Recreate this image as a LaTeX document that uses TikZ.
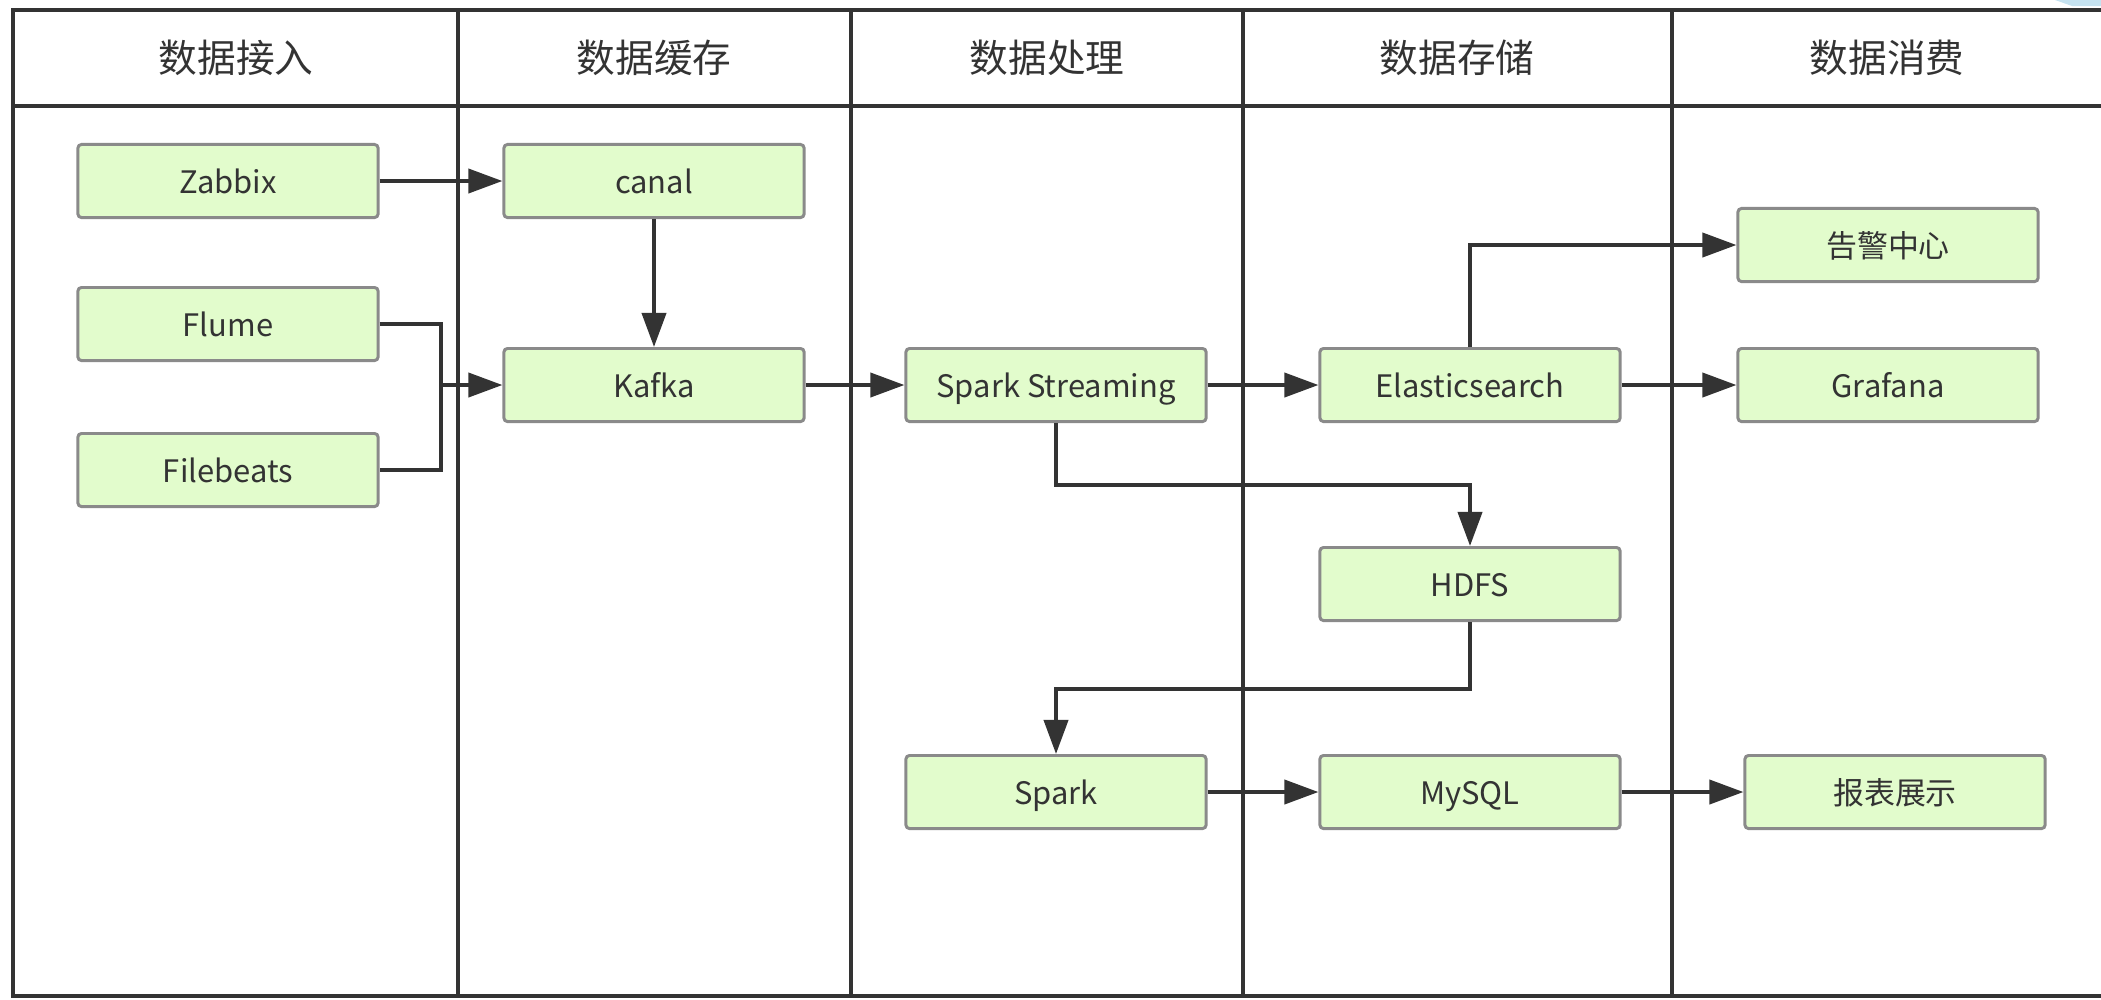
\documentclass[tikz,border=0pt]{standalone}
\usepackage{fontspec}
\setmainfont{Noto Sans CJK SC}
\usetikzlibrary{arrows.meta}
\definecolor{boxfill}{RGB}{226,252,204}
\definecolor{boxline}{RGB}{138,138,138}
\definecolor{ink}{RGB}{51,51,51}
\definecolor{cornerblue}{RGB}{197,226,240}

\begin{document}
\begin{tikzpicture}[x=0.01cm,y=-0.01cm,
        lane/.style={draw=ink,line width=1.15pt},
        head/.style={text=ink,font=\fontsize{11}{13}\selectfont},
        stage/.style={draw=boxline,fill=boxfill,line width=0.85pt,rounded corners=1pt,
            minimum width=3cm,minimum height=0.73cm,text=ink,font=\fontsize{8.8}{10}\selectfont,
            text height=1.75ex,text depth=0.45ex},
        link/.style={draw=ink,line width=1.1pt},
        flow/.style={link,-{Triangle[length=0.34cm,width=0.24cm]}}]
    \useasboundingbox (0,0) rectangle (2101,999);
    \fill[cornerblue] (2055,0) -- (2072,6) -- (2101,6) -- (2101,0) -- cycle;
    % lanes
    \draw[lane] (2101,10) -- (13,10) -- (13,996) -- (2101,996);
    \draw[lane] (13,106) -- (2101,106);
    \foreach \x in {458,851,1243,1672}
        \draw[lane] (\x,10) -- (\x,996);
    % headers
    \node[head] (h1) at (236,58) {数据接入};
    \node[head] (h2) at (654,58) {数据缓存};
    \node[head] (h3) at (1047,58) {数据处理};
    \node[head] (h4) at (1457,58) {数据存储};
    \node[head] (h5) at (1887,58) {数据消费};
    % boxes
    \node[stage] (zabbix) at (228,181) {Zabbix};
    \node[stage] (flume) at (228,324) {Flume};
    \node[stage] (filebeats) at (228,470) {Filebeats};
    \node[stage] (canal) at (654,181) {canal};
    \node[stage] (kafka) at (654,385) {Kafka};
    \node[stage] (streaming) at (1056,385) {Spark Streaming};
    \node[stage] (es) at (1470,385) {Elasticsearch};
    \node[stage] (hdfs) at (1470,584) {HDFS};
    \node[stage] (spark) at (1056,792) {Spark};
    \node[stage] (mysql) at (1470,792) {MySQL};
    \node[stage] (alarm) at (1888,245) {告警中心};
    \node[stage] (grafana) at (1888,385) {Grafana};
    \node[stage] (report) at (1895,792) {报表展示};
    % flows
    \coordinate (join) at (441,385);
    \draw[flow] (zabbix) -- (canal);
    \draw[link] (flume.east) -| (join) |- (filebeats.east);
    \draw[flow] (join) -- (kafka);
    \draw[flow] (canal) -- (kafka);
    \draw[flow] (kafka) -- (streaming);
    \draw[flow] (streaming) -- (es);
    \draw[flow] (es) -- (grafana);
    \draw[flow] (es.north) |- (alarm.west);
    \draw[flow] (streaming.south) -- ++(0,62) -| (hdfs.north);
    \draw[flow] (hdfs.south) -- ++(0,67) -| (spark.north);
    \draw[flow] (spark) -- (mysql);
    \draw[flow] (mysql) -- (report);
\end{tikzpicture}
\end{document}
